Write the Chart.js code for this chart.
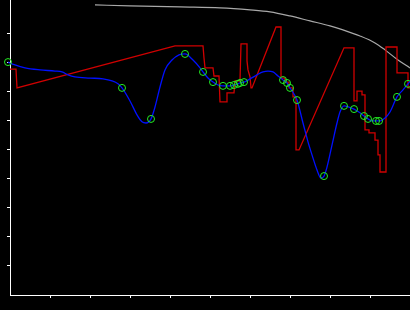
<!DOCTYPE html>
<html>
<head>
<meta charset="utf-8">
<script src="https://cdn.jsdelivr.net/npm/chart.js@4"></script>
<style>
  html, body { margin: 0; padding: 0; background: #000; }
  #c { display: block; }
</style>
</head>
<body>
<canvas id="c" width="410" height="310"></canvas>
<script>
// grey arc at the top
var greyX = [2.125, 3.0, 4.25, 5.25, 6.0, 6.5, 7.0, 7.5, 8.0, 8.325, 8.75, 9.125, 9.375, 9.7, 10.0];
var greyY = [10.0, 9.97, 9.93, 9.9, 9.83, 9.76, 9.62, 9.45, 9.28, 9.14, 8.93, 8.69, 8.45, 8.10, 7.83];

// red stepped trace
var redX = [0, 0.15, 0.175, 4.125, 4.825, 4.85, 4.875, 5.075, 5.1, 5.225, 5.25, 5.425, 5.425, 5.6, 5.625, 5.75, 5.775,
  5.925, 5.925, 5.95, 6.0, 6.025, 6.05, 6.65, 6.775, 6.775, 6.875, 6.875, 6.975, 6.975, 7.075, 7.075, 7.15, 7.15, 7.225,
  8.35, 8.6, 8.6, 8.675, 8.675, 8.8, 8.8, 8.875, 8.875, 8.975, 8.975, 9.125, 9.125, 9.2, 9.2, 9.25, 9.25, 9.4, 9.4,
  9.675, 9.675, 9.95, 9.95, 10.0];
var redY = [7.79, 7.79, 7.14, 8.59, 8.59, 8.17, 7.83, 7.83, 7.55, 7.55, 6.66, 6.66, 6.97, 6.97, 7.38, 7.38, 8.66,
  8.66, 8.07, 7.76, 7.52, 7.14, 7.14, 9.24, 9.24, 7.48, 7.48, 7.34, 7.34, 7.14, 7.14, 6.83, 6.83, 5.0, 5.0,
  8.52, 8.52, 6.69, 6.69, 7.03, 7.03, 6.90, 6.90, 5.69, 5.69, 5.59, 5.59, 5.34, 5.34, 4.83, 4.83, 4.24, 4.24, 8.55,
  8.55, 7.66, 7.66, 7.14, 7.14];

// blue smooth curve
var blueX = [-0.1, -0.05, 0.125, 0.375, 0.75, 1.125, 1.3, 1.45, 1.625, 2.0, 2.325, 2.55, 2.7, 2.8, 3.0, 3.175, 3.3, 3.4,
  3.525, 3.625, 3.75, 3.875, 4.05, 4.225, 4.375, 4.575, 4.75, 4.825, 4.95, 5.075, 5.2, 5.325, 5.5, 5.6, 5.7, 5.75, 5.85,
  6.0, 6.175, 6.325, 6.45, 6.575, 6.7, 6.825, 6.925, 7.0, 7.1, 7.175, 7.325, 7.45, 7.55, 7.675, 7.775, 7.85, 7.925,
  8.05, 8.175, 8.25, 8.35, 8.475, 8.6, 8.75, 8.85, 8.95, 9.05, 9.15, 9.25, 9.375, 9.5, 9.675, 9.825, 9.95, 10.05];
var blueY = [8.10, 8.03, 7.93, 7.83, 7.76, 7.72, 7.69, 7.59, 7.52, 7.48, 7.45, 7.38, 7.28, 7.14, 6.69, 6.21, 5.97, 5.93,
  6.07, 6.48, 7.17, 7.76, 8.10, 8.28, 8.31, 8.10, 7.83, 7.69, 7.48, 7.34, 7.24, 7.21, 7.21, 7.24, 7.28, 7.31, 7.34,
  7.45, 7.59, 7.69, 7.72, 7.69, 7.55, 7.41, 7.31, 7.14, 6.93, 6.72, 5.93, 5.28, 4.83, 4.31, 4.03, 4.10, 4.41,
  5.17, 5.93, 6.31, 6.52, 6.48, 6.41, 6.28, 6.17, 6.07, 6.00, 6.00, 6.00, 6.10, 6.31, 6.83, 7.07, 7.28, 7.45];

// green circle markers on the blue curve
var markX = [-0.1, -0.05, 2.8, 3.525, 4.375, 4.825, 5.075, 5.325, 5.5, 5.6, 5.7, 5.75, 5.85, 6.825, 6.925, 7.0, 7.175,
  7.85, 8.35, 8.6, 8.85, 8.95, 9.15, 9.225, 9.675, 9.95];
var markY = [8.10, 8.03, 7.14, 6.07, 8.31, 7.69, 7.34, 7.21, 7.21, 7.24, 7.28, 7.31, 7.34, 7.41, 7.31, 7.14, 6.72,
  4.10, 6.52, 6.41, 6.17, 6.07, 6.00, 6.00, 6.83, 7.28];

function pts(xs, ys) {
  return xs.map(function (x, i) { return { x: x, y: ys[i] }; });
}

function tickColor(ctx) {
  var v = ctx.tick ? ctx.tick.value : 0;
  return (v >= 1 && v <= 9) ? '#ffffff' : 'rgba(0,0,0,0)';
}

new Chart(document.getElementById('c'), {
  type: 'scatter',
  data: {
    datasets: [
      { data: pts(markX, markY), showLine: false, pointRadius: 3.5, pointBorderWidth: 1,
        pointBorderColor: '#22ee22', pointBackgroundColor: 'rgba(0,0,0,0)', clip: false, order: 1 },
      { data: pts(blueX, blueY), showLine: true, pointRadius: 0, borderColor: '#0010ff', borderWidth: 1.3,
        tension: 0.3, cubicInterpolationMode: 'monotone', clip: false, order: 2 },
      { data: pts(redX, redY), showLine: true, pointRadius: 0, borderColor: '#d00000', borderWidth: 1.3,
        tension: 0, order: 3 },
      { data: pts(greyX, greyY), showLine: true, pointRadius: 0, borderColor: '#a8a8a8', borderWidth: 1.2,
        cubicInterpolationMode: 'monotone', order: 4 }
    ]
  },
  options: {
    responsive: false,
    animation: false,
    events: [],
    layout: { autoPadding: false, padding: { left: 7, right: 0, top: 0, bottom: 12 } },
    plugins: { legend: { display: false }, tooltip: { enabled: false } },
    scales: {
      x: {
        type: 'linear', min: 0, max: 10,
        ticks: { display: false, stepSize: 1 },
        grid: { drawOnChartArea: false, drawTicks: true, tickLength: 3, color: tickColor },
        border: { display: true, color: '#ffffff', width: 1 }
      },
      y: {
        type: 'linear', min: 0, max: 10.17,
        ticks: { display: false, stepSize: 1 },
        grid: { drawOnChartArea: false, drawTicks: true, tickLength: 3, color: tickColor },
        border: { display: true, color: '#ffffff', width: 1 }
      }
    }
  }
});
</script>
</body>
</html>
